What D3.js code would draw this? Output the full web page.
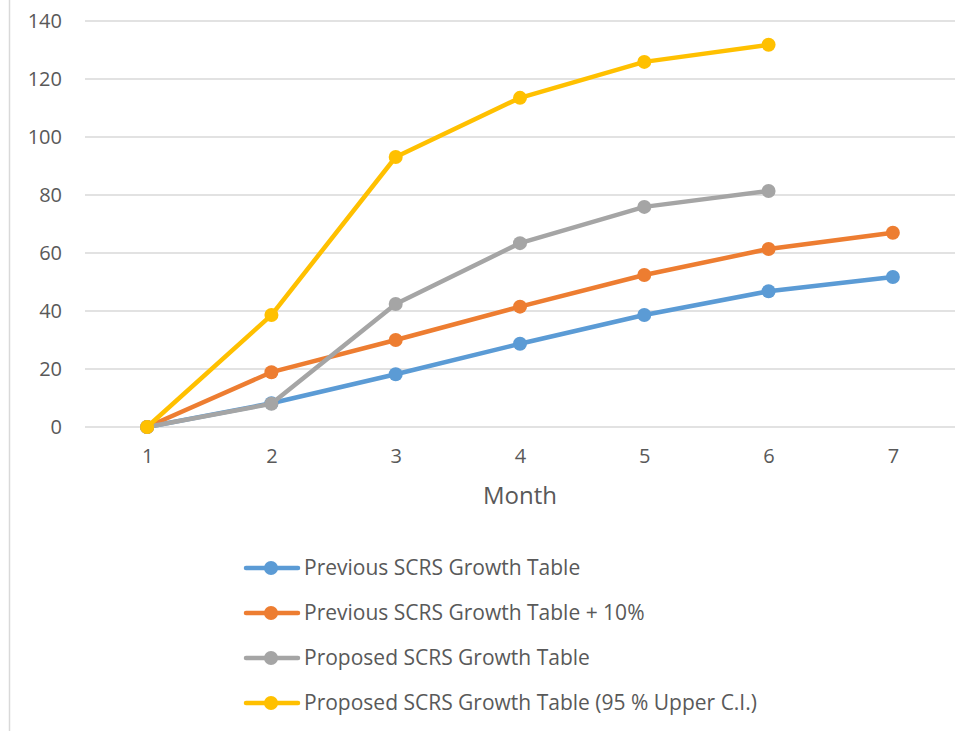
<!DOCTYPE html>
<html>
<head>
<meta charset="utf-8">
<script src="https://cdn.jsdelivr.net/npm/d3@7"></script>
<style>
  html, body { margin: 0; padding: 0; background: #fff; }
  svg { display: block; }
  text { font-family: "Open Sans", Lato, "Liberation Sans", sans-serif; fill: #595959; }
</style>
</head>
<body>
<svg id="chart" width="955" height="731"></svg>
<script>
// Months on the category axis
const months = [1, 2, 3, 4, 5, 6, 7];

// Cumulative growth per month for each table
const previousTable     = [0, 8.2, 18.2, 28.7, 38.6, 46.8, 51.7];
const previousPlus10    = [0, 18.9, 30.0, 41.5, 52.4, 61.4, 67.0];
const proposedTable     = [0, 8.0, 42.4, 63.4, 75.9, 81.4];
const proposedUpperCI   = [0, 38.6, 93.1, 113.5, 125.9, 131.8];

const seriesNames = [
  "Previous SCRS Growth Table",
  "Previous SCRS Growth Table + 10%",
  "Proposed SCRS Growth Table",
  "Proposed SCRS Growth Table (95 % Upper C.I.)"
];
const seriesValues = [previousTable, previousPlus10, proposedTable, proposedUpperCI];
const seriesColors = ["#5B9BD5", "#ED7D31", "#A5A5A5", "#FFC000"];

const yTicks = [0, 20, 40, 60, 80, 100, 120, 140];

const FONT = "'Open Sans', Lato, sans-serif";
const svg = d3.select("#chart");

// Outer frame edge on the left
svg.append("line")
  .attr("x1", 9.5).attr("x2", 9.5)
  .attr("y1", 0).attr("y2", 731)
  .attr("stroke", "#d9d9d9").attr("stroke-width", 1.5);

const x = d3.scalePoint().domain(months).range([85, 955]).padding(0.5);
const y = d3.scaleLinear().domain([0, 140]).range([427, 21]);

// Horizontal gridlines
svg.append("g").selectAll("line")
  .data(yTicks)
  .join("line")
  .attr("x1", 85).attr("x2", 955)
  .attr("y1", d => y(d)).attr("y2", d => y(d))
  .attr("stroke", "#d9d9d9").attr("stroke-width", 1.3);

// Y axis labels
const yAxis = d3.axisLeft(y).tickValues(yTicks).tickSize(0).tickPadding(0);
svg.append("g")
  .attr("transform", "translate(62,0)")
  .call(yAxis)
  .call(g => g.select(".domain").remove())
  .call(g => g.selectAll("text")
    .attr("font-size", 20).attr("fill", "#595959")
    .attr("font-family", FONT));

// X axis labels
const xAxis = d3.axisBottom(x).tickSize(0).tickPadding(0);
svg.append("g")
  .attr("transform", "translate(0,449)")
  .call(xAxis)
  .call(g => g.select(".domain").remove())
  .call(g => g.selectAll("text")
    .attr("font-size", 20).attr("fill", "#595959")
    .attr("font-family", FONT));

// Axis title
svg.append("text")
  .attr("x", 520).attr("y", 504)
  .attr("text-anchor", "middle")
  .attr("font-size", 24)
  .text("Month");

// Series lines and markers
const line = d3.line()
  .x((d, i) => x(months[i]))
  .y(d => y(d));

seriesValues.forEach((vals, k) => {
  const g = svg.append("g");
  g.append("path")
    .datum(vals)
    .attr("d", line)
    .attr("fill", "none")
    .attr("stroke", seriesColors[k])
    .attr("stroke-width", 4.5)
    .attr("stroke-linejoin", "round")
    .attr("stroke-linecap", "round");
  g.selectAll("circle")
    .data(vals)
    .join("circle")
    .attr("cx", (d, i) => x(months[i]))
    .attr("cy", d => y(d))
    .attr("r", 7)
    .attr("fill", seriesColors[k]);
});

// Legend
const legendRows = [568, 613, 658, 703];
const legend = svg.append("g");
seriesNames.forEach((name, k) => {
  const row = legend.append("g").attr("transform", `translate(0,${legendRows[k]})`);
  row.append("line")
    .attr("x1", 246).attr("x2", 298)
    .attr("y1", 0).attr("y2", 0)
    .attr("stroke", seriesColors[k])
    .attr("stroke-width", 4.5)
    .attr("stroke-linecap", "round");
  row.append("circle")
    .attr("cx", 271).attr("cy", 0).attr("r", 7)
    .attr("fill", seriesColors[k]);
  row.append("text")
    .attr("x", 304).attr("y", 0)
    .attr("dy", "0.35em")
    .attr("font-size", 21)
    .text(name);
});
</script>
</body>
</html>
